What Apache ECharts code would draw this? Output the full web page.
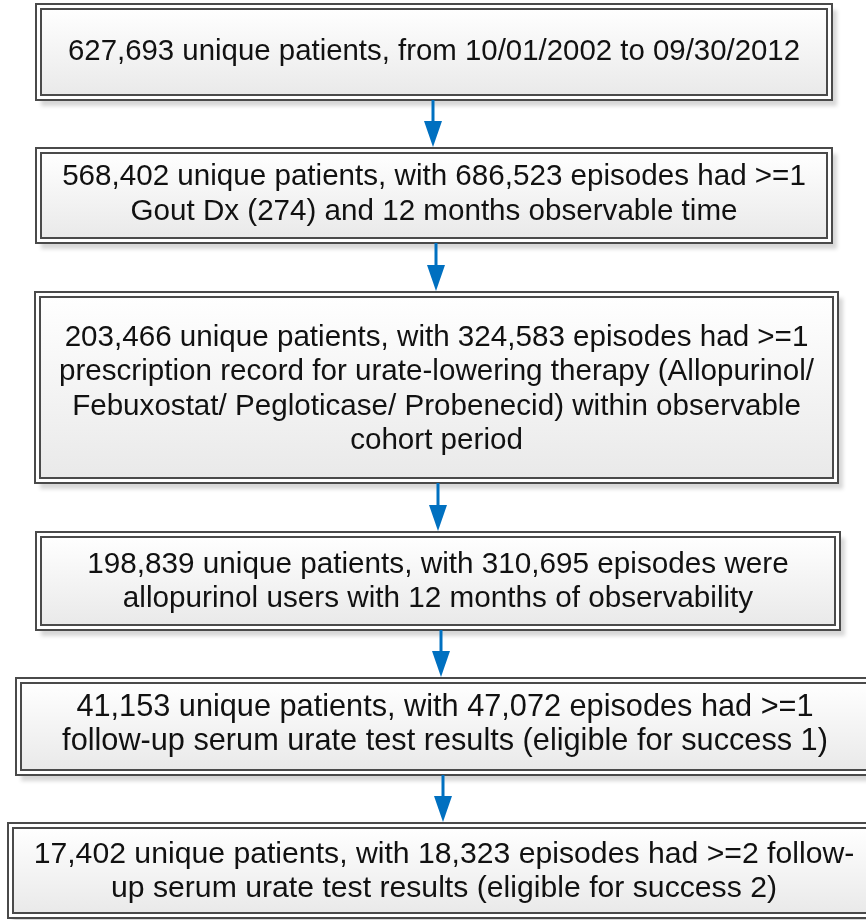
<!DOCTYPE html>
<html>
<head>
<meta charset="utf-8">
<script src="https://cdn.jsdelivr.net/npm/echarts@6/dist/echarts.min.js"></script>
<style>
html,body{margin:0;padding:0;background:#fff;}
#chart{width:866px;height:920px;}
</style>
</head>
<body>
<div id="chart"></div>
<script>
// ---- data: flow steps (text of each box) ----
const stepTexts = [
  "627,693 unique patients, from 10/01/2002 to 09/30/2012",
  "568,402 unique patients, with 686,523 episodes had >=1\nGout Dx (274) and 12 months observable time",
  "203,466 unique patients, with 324,583 episodes had >=1\nprescription record for urate-lowering therapy (Allopurinol/\nFebuxostat/ Pegloticase/ Probenecid) within observable\ncohort period",
  "198,839 unique patients, with 310,695 episodes were\nallopurinol users with 12 months of observability",
  "41,153 unique patients, with 47,072 episodes had >=1\nfollow-up serum urate test results (eligible for success 1)",
  "17,402 unique patients, with 18,323 episodes had >=2 follow-\nup serum urate test results (eligible for success 2)"
];
// arrows connect step i -> step i+1
const arrowFrom = [0, 1, 2, 3, 4];

// ---- layout (pixel-space of the hidden axes) ----
const boxLeft   = [36, 36, 35, 36, 16, 8];
const boxRight  = [832, 832, 838, 840, 874, 880];
const boxTop    = [4, 148, 292, 532, 678, 823];
const boxBottom = [100, 243, 483, 630, 775, 918];
const arrowX    = [433, 436, 438, 441, 443];
const textSize  = [29.4, 29.6, 29.6, 29.7, 30.7, 30.2];
const textDy    = [1, 0, 3, 2, -1, 2];

const W = 866, H = 920;
const chart = echarts.init(document.getElementById('chart'), null, {renderer: 'canvas'});

const borderColor = '#4a4a4a';
const arrowColor = '#0070c0';

function renderBox(params, api) {
  const i = api.value(0);
  const p1 = api.coord([boxLeft[i], boxTop[i]]);
  const p2 = api.coord([boxRight[i], boxBottom[i]]);
  const x = p1[0], y = p1[1], w = p2[0] - p1[0], h = p2[1] - p1[1];
  const inset = 5;
  return {
    type: 'group',
    children: [
      {
        type: 'rect',
        shape: {x: x, y: y, width: w, height: h},
        style: {
          fill: '#ffffff',
          shadowColor: 'rgba(0,0,0,0.16)',
          shadowBlur: 4,
          shadowOffsetX: 5,
          shadowOffsetY: 6
        },
        z2: 0
      },
      {
        type: 'rect',
        shape: {x: x, y: y, width: w, height: h},
        style: {fill: '#ffffff', stroke: borderColor, lineWidth: 2},
        z2: 1
      },
      {
        type: 'rect',
        shape: {x: x + inset, y: y + inset, width: w - 2 * inset, height: h - 2 * inset},
        style: {
          fill: new echarts.graphic.LinearGradient(0, 0, 0, 1, [
            {offset: 0, color: '#ffffff'},
            {offset: 1, color: '#e9e9e9'}
          ]),
          stroke: borderColor,
          lineWidth: 2
        },
        z2: 2
      },
      {
        type: 'text',
        style: {
          text: stepTexts[i],
          x: x + w / 2,
          y: y + h / 2 - 1 + textDy[i],
          align: 'center',
          verticalAlign: 'middle',
          fontSize: textSize[i],
          fontFamily: '"Liberation Sans", Arial, sans-serif',
          lineHeight: 34.5,
          fill: '#111111'
        },
        z2: 3
      }
    ]
  };
}

function renderArrow(params, api) {
  const i = api.value(0);
  const headLen = 26, headHalf = 9;
  const start = api.coord([arrowX[i], boxBottom[i]]);
  const tip = api.coord([arrowX[i], boxTop[i + 1] - 1]);
  return {
    type: 'group',
    children: [
      {
        type: 'line',
        shape: {x1: start[0], y1: start[1], x2: tip[0], y2: tip[1] - headLen + 2},
        style: {stroke: arrowColor, lineWidth: 3}
      },
      {
        type: 'polygon',
        shape: {points: [
          [tip[0] - headHalf, tip[1] - headLen],
          [tip[0] + headHalf, tip[1] - headLen],
          [tip[0], tip[1]]
        ]},
        style: {fill: arrowColor}
      }
    ]
  };
}

chart.setOption({
  backgroundColor: '#ffffff',
  animation: false,
  grid: {left: 0, right: 0, top: 0, bottom: 0},
  xAxis: {type: 'value', min: 0, max: W, show: false},
  yAxis: {type: 'value', min: 0, max: H, inverse: true, show: false},
  series: [
    {
      type: 'custom',
      renderItem: renderBox,
      data: stepTexts.map((t, i) => [i]),
      clip: false,
      z: 1
    },
    {
      type: 'custom',
      renderItem: renderArrow,
      data: arrowFrom.map(i => [i]),
      clip: false,
      z: 2
    }
  ]
});
</script>
</body>
</html>
